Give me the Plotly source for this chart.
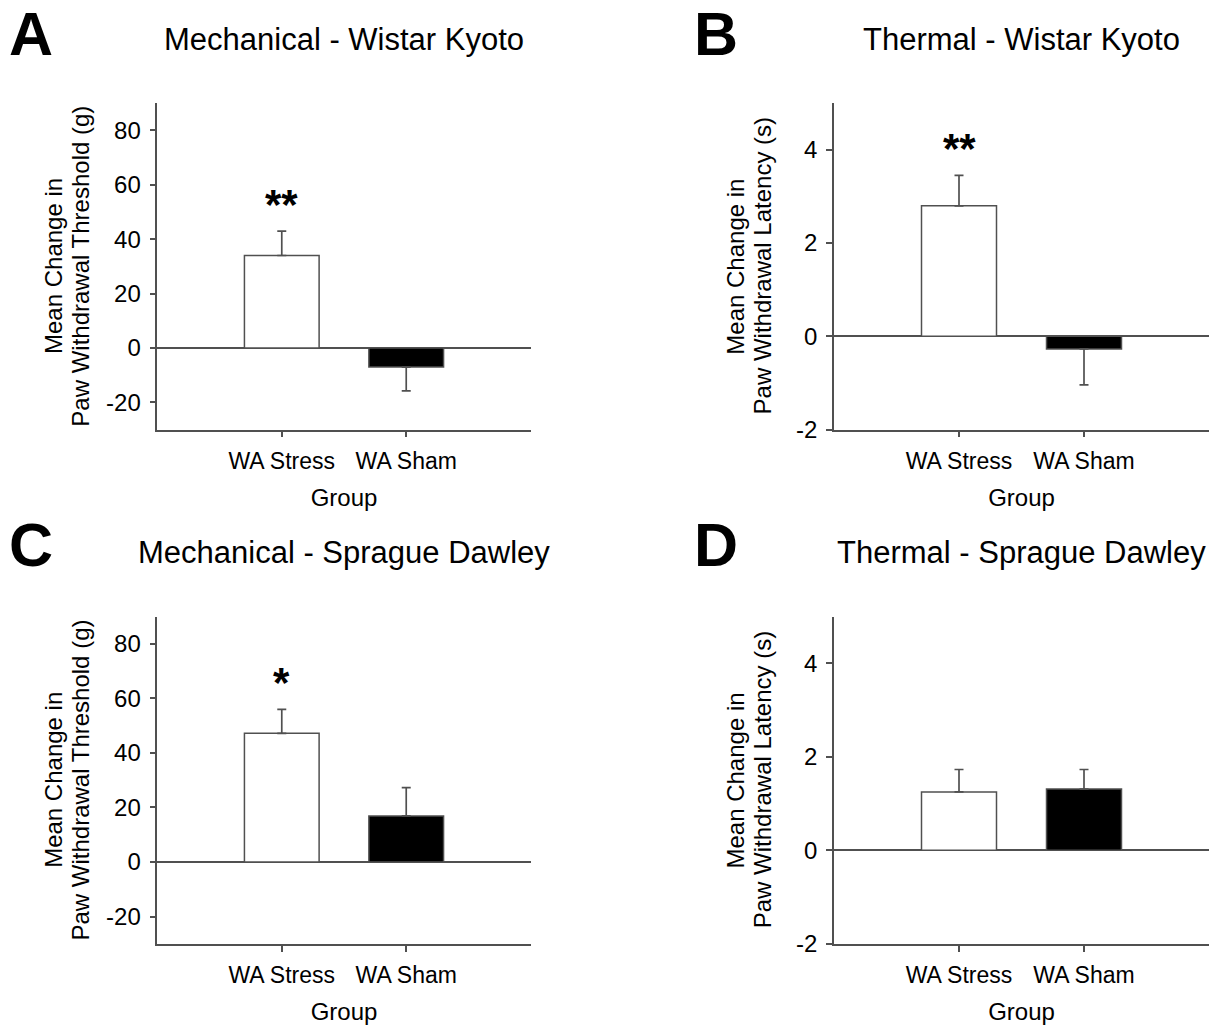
import plotly.graph_objects as go

# ---- data ----
groups = ["WA Stress", "WA Sham"]

mech_wk_mean = [34.0, -7.0]
mech_wk_err = [9.0, 8.8]
therm_wk_mean = [2.80, -0.27]
therm_wk_err = [0.65, 0.77]
mech_sd_mean = [47.2, 16.9]
mech_sd_err = [8.8, 10.4]
therm_sd_mean = [1.25, 1.31]
therm_sd_err = [0.48, 0.42]

sig_wk_mech = ["**", ""]
sig_wk_therm = ["**", ""]
sig_sd_mech = ["*", ""]
sig_sd_therm = ["", ""]

panel_letters = ["A", "B", "C", "D"]
panel_titles = ["Mechanical - Wistar Kyoto", "Thermal - Wistar Kyoto",
                "Mechanical - Sprague Dawley", "Thermal - Sprague Dawley"]
ytitle_line1 = "Mean Change in"
ytitle_mech = "Paw Withdrawal Threshold (g)"
ytitle_therm = "Paw Withdrawal Latency (s)"
xtitle = "Group"
mech_ticks = [-20, 0, 20, 40, 60, 80]
mech_ticktext = ["-20", "0", "20", "40", "60", "80"]
therm_ticks = [-2, 0, 2, 4]
therm_ticktext = ["-2", "0", "2", "4"]

# ---- style ----
FONT = "Liberation Sans, Arial, sans-serif"
GRAY = "#505050"
W, H = 1220, 1040
REF_H = 1028  # layout positions below are given in reference-image pixels


def fx(px):
    return px / W


def fy(px):
    return 1 - px / REF_H


xpx = [(157.3, 530.7), (834, 1209)]
ypx = [(103.3, 430), (617.3, 944.7)]
xdoms = [[fx(a), fx(b)] for a, b in xpx]
ydoms = [[fy(b), fy(a)] for a, b in ypx]

panels = [
    (mech_wk_mean, mech_wk_err, sig_wk_mech, ytitle_mech, [-30, 90], mech_ticks, mech_ticktext, 0, 0),
    (therm_wk_mean, therm_wk_err, sig_wk_therm, ytitle_therm, [-2, 5], therm_ticks, therm_ticktext, 1, 0),
    (mech_sd_mean, mech_sd_err, sig_sd_mech, ytitle_mech, [-30, 90], mech_ticks, mech_ticktext, 0, 1),
    (therm_sd_mean, therm_sd_err, sig_sd_therm, ytitle_therm, [-2, 5], therm_ticks, therm_ticktext, 1, 1),
]
# y-title line offsets (px left of the axis) for the two lines
ytitle_offsets = {0: (103.7, 77.0), 1: (98.7, 72.0)}

fig = go.Figure()
annotations = []
layout = {}

for i, (means, errs, sigs, ytitle, yrange, yticks, ytext, col, row) in enumerate(panels):
    n = i + 1
    xa = "x" if n == 1 else f"x{n}"
    ya = "y" if n == 1 else f"y{n}"
    up = [e if m >= 0 else 0 for m, e in zip(means, errs)]
    down = [e if m < 0 else 0 for m, e in zip(means, errs)]
    fig.add_trace(go.Bar(
        x=groups, y=means, xaxis=xa, yaxis=ya, width=0.6,
        marker=dict(color=["white", "black"], line=dict(color=GRAY, width=1.5)),
        error_y=dict(type="data", symmetric=False, array=up, arrayminus=down,
                     color=GRAY, thickness=1.7, width=4.5),
        showlegend=False, hoverinfo="skip",
    ))
    for g, m, e, s in zip(groups, means, errs, sigs):
        if s:
            top = m + e if m >= 0 else m
            annotations.append(dict(
                x=g, y=top, xref=xa, yref=ya, text=f"<b>{s}</b>", showarrow=False,
                font=dict(family=FONT, size=42, color="black"),
                yanchor="middle", yshift=27))
    xkey = "xaxis" if n == 1 else f"xaxis{n}"
    ykey = "yaxis" if n == 1 else f"yaxis{n}"
    layout[xkey] = dict(
        domain=xdoms[col], anchor=ya, type="category", range=[-1, 2],
        showline=True, linecolor=GRAY, linewidth=1.5, ticks="outside", ticklen=6,
        tickcolor=GRAY, tickwidth=1.5, showgrid=False, zeroline=False,
        tickfont=dict(family=FONT, size=23, color="black"), ticklabelstandoff=4,
        title=dict(text=xtitle, font=dict(family=FONT, size=24, color="black"), standoff=16),
    )
    layout[ykey] = dict(
        domain=ydoms[row], anchor=xa, range=yrange, tickvals=yticks, ticktext=ytext,
        showline=True, linecolor=GRAY, linewidth=1.5, ticks="outside", ticklen=6,
        tickcolor=GRAY, tickwidth=1.5, showgrid=False,
        zeroline=True, zerolinecolor=GRAY, zerolinewidth=1.5,
        tickfont=dict(family=FONT, size=24, color="black"), ticklabelstandoff=4,
    )
    # two-line y-axis title
    axis_x = xpx[col][0]
    ymid = fy((ypx[row][0] + ypx[row][1]) / 2)
    off1, off2 = ytitle_offsets[col]
    for txt, off in ((ytitle_line1, off1), (ytitle, off2)):
        annotations.append(dict(x=fx(axis_x - off), y=ymid, xref="paper", yref="paper",
                                text=txt, textangle=-90, showarrow=False,
                                xanchor="center", yanchor="middle",
                                font=dict(family=FONT, size=24, color="black")))
    xc = (xdoms[col][0] + xdoms[col][1]) / 2
    ty = fy(40) if row == 0 else fy(553)
    annotations.append(dict(x=xc, y=ty, xref="paper", yref="paper", text=panel_titles[i],
                            showarrow=False, xanchor="center", yanchor="middle",
                            font=dict(family=FONT, size=31, color="black")))
    lx = fx(7) if col == 0 else fx(692)
    ly = fy(34) if row == 0 else fy(546)
    annotations.append(dict(x=lx, y=ly, xref="paper", yref="paper", text=f"<b>{panel_letters[i]}</b>",
                            showarrow=False, xanchor="left", yanchor="middle",
                            font=dict(family=FONT, size=61, color="black")))

fig.update_layout(
    width=W, height=H, margin=dict(l=0, r=0, t=0, b=0),
    paper_bgcolor="white", plot_bgcolor="white",
    annotations=annotations, **layout,
)

fig.write_html(
    "out.html",
    config={"displayModeBar": False},
    post_script="document.body.style.margin='0';",
)
